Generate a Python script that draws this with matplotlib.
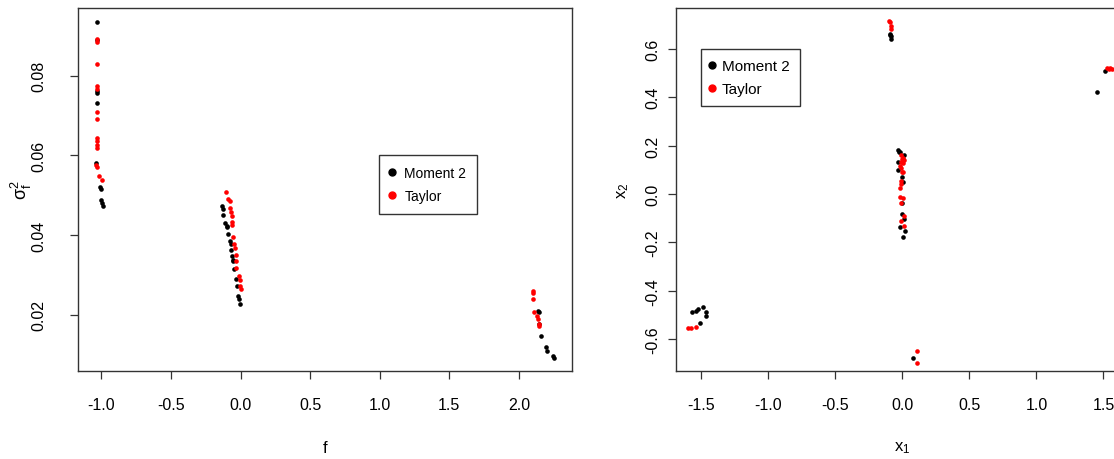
import matplotlib
matplotlib.use("Agg")
import matplotlib.pyplot as plt
from matplotlib import font_manager
from matplotlib.lines import Line2D

# ---- left panel: f vs sigma_f^2 ----
f_moment = [-1.034, -1.032, -1.034, -1.034, -1.034, -1.039, -1.010, -1.003, -1.003, -0.996, -0.991,
            -0.131, -0.126, -0.124, -0.112, -0.098, -0.100, -0.093, -0.076, -0.069, -0.071,
            -0.064, -0.055, -0.052, -0.045, -0.035, -0.028, -0.017, -0.011, -0.004,
            2.139, 2.147, 2.147, 2.159, 2.193, 2.200, 2.247, 2.252]
s_moment = [0.0936, 0.0890, 0.0762, 0.0756, 0.0731, 0.0581, 0.0522, 0.0516, 0.0488, 0.0480, 0.0474,
            0.0474, 0.0466, 0.0450, 0.0430, 0.0420, 0.0424, 0.0403, 0.0386, 0.0378, 0.0363,
            0.0348, 0.0338, 0.0336, 0.0315, 0.0290, 0.0272, 0.0248, 0.0240, 0.0227,
            0.0210, 0.0206, 0.0177, 0.0146, 0.0118, 0.0110, 0.0097, 0.0091]
f_taylor = [-1.034, -1.034, -1.034, -1.034, -1.031, -1.034, -1.031, -1.034, -1.031, -1.034, -1.031,
            -1.036, -1.032, -1.019, -0.998,
            -0.105, -0.088, -0.078, -0.076, -0.069, -0.062, -0.060, -0.060, -0.052, -0.047,
            -0.040, -0.035, -0.033, -0.033, -0.011, -0.004, -0.004, 0.003,
            2.104, 2.104, 2.104, 2.111, 2.131, 2.138, 2.143, 2.147]
s_taylor = [0.0893, 0.0886, 0.0829, 0.0775, 0.0768, 0.0708, 0.0691, 0.0645, 0.0637, 0.0627, 0.0619,
            0.0577, 0.0570, 0.0549, 0.0538,
            0.0507, 0.0491, 0.0486, 0.0467, 0.0458, 0.0449, 0.0432, 0.0425, 0.0394, 0.0378,
            0.0367, 0.0350, 0.0335, 0.0317, 0.0298, 0.0286, 0.0272, 0.0265,
            0.0260, 0.0255, 0.0240, 0.0208, 0.0198, 0.0189, 0.0177, 0.0173]

# ---- right panel: x1 vs x2 ----
x1_moment = [-1.566, -1.541, -1.526, -1.484, -1.464, -1.464, -1.509,
             -0.092, -0.084, -0.086, -0.089,
             -0.030, -0.022, -0.015, 0.015, -0.034, -0.034, -0.002, 0.003, -0.004,
             -0.002, 0.013, -0.017, 0.022, 0.007,
             0.078, 1.450, 1.512]
x2_moment = [-0.487, -0.485, -0.476, -0.467, -0.487, -0.504, -0.534,
             0.662, 0.652, 0.641, 0.658,
             0.183, 0.173, 0.175, 0.161, 0.131, 0.099, 0.069, 0.051, -0.037,
             -0.083, -0.103, -0.138, -0.154, -0.178,
             -0.680, 0.423, 0.510]
x1_taylor = [-1.596, -1.578, -1.538,
             -0.097, -0.092, -0.084, -0.086,
             -0.012, -0.004, -0.012, 0.007, -0.017, -0.004, 0.003, -0.007, -0.012, -0.017,
             -0.017, 0.007, -0.012, 0.013, -0.012, 0.013, 0.010, -0.008, 0.005,
             0.107, 0.107,
             1.524, 1.538, 1.549, 1.561]
x2_taylor = [-0.554, -0.554, -0.552,
             0.717, 0.710, 0.696, 0.683,
             0.161, 0.145, 0.131, 0.127, 0.117, 0.092, 0.090, 0.055, 0.041, 0.025,
             -0.014, -0.017, -0.037, -0.092, -0.110, -0.131, 0.140, 0.108, 0.150,
             -0.651, -0.700,
             0.520, 0.517, 0.519, 0.517]

names = {f.name for f in font_manager.fontManager.ttflist}
tick_font = "Liberation Sans Narrow" if "Liberation Sans Narrow" in names else "Liberation Sans"
plt.rcParams["font.family"] = ["Liberation Sans", "DejaVu Sans"]

W, H = 1114, 460
fig = plt.figure(figsize=(W / 100, H / 100), dpi=100)


def px_axes(x0, y0, x1, y1):
    return fig.add_axes([x0 / W, 1 - y1 / H, (x1 - x0) / W, (y1 - y0) / H])


def style(ax, ypad):
    for sp in ax.spines.values():
        sp.set_color("#333333")
        sp.set_linewidth(1.0)
    ax.tick_params(axis="both", direction="out", length=5.8, width=0.9, color="#333333",
                   labelsize=11.5)
    ax.tick_params(axis="x", pad=13)
    ax.tick_params(axis="y", pad=ypad)
    for lab in ax.get_xticklabels() + ax.get_yticklabels():
        lab.set_fontfamily(tick_font)
    for lab in ax.get_yticklabels():
        lab.set_rotation(90)
        lab.set_va("center")


def add_legend(ax, anchor, size, bpad, tpad, lspace):
    handles = [Line2D([], [], ls="none", marker="o", color="black", markersize=5),
               Line2D([], [], ls="none", marker="o", color="red", markersize=5)]
    leg = ax.legend(handles, ["Moment 2", "Taylor"], loc="upper left", bbox_to_anchor=anchor,
                    borderaxespad=0, fancybox=False, framealpha=1, edgecolor="#333333",
                    fontsize=size, handlelength=0.2, handletextpad=tpad, labelspacing=lspace,
                    borderpad=bpad)
    leg.get_frame().set_linewidth(1.0)


dot = 11

ax1 = px_axes(78.3, 8.7, 571.7, 372.3)
ax1.scatter(f_moment, s_moment, s=dot, color="black", linewidths=0, zorder=3)
ax1.scatter(f_taylor, s_taylor, s=dot, color="red", linewidths=0, zorder=3)
ax1.set_xlim(-1.166, 2.379)
ax1.set_ylim(0.0058, 0.0971)
ax1.set_xticks([-1.0, -0.5, 0.0, 0.5, 1.0, 1.5, 2.0])
ax1.set_yticks([0.02, 0.04, 0.06, 0.08])
ax1.set_xticklabels(["-1.0", "-0.5", "0.0", "0.5", "1.0", "1.5", "2.0"])
ax1.set_yticklabels(["0.02", "0.04", "0.06", "0.08"])
style(ax1, 17)
ax1.set_xlabel("f", fontsize=12)
ax1.set_ylabel(r"$\mathregular{\sigma_f^2}$", fontsize=13)
ax1.xaxis.set_label_coords(0.5, -0.21)
ax1.yaxis.set_label_coords(-0.116, 0.5)
ax1.xaxis.label.set_va("center")
ax1.yaxis.label.set_va("center")
add_legend(ax1, (0.610, 0.595), 10, 0.8, 0.8, 0.65)

ax2 = px_axes(676, 9.3, 1128.4, 372.3)
ax2.scatter(x1_moment, x2_moment, s=dot, color="black", linewidths=0, zorder=3)
ax2.scatter(x1_taylor, x2_taylor, s=dot, color="red", linewidths=0, zorder=3)
ax2.set_xlim(-1.688, 1.686)
ax2.set_ylim(-0.7336, 0.768)
ax2.set_xticks([-1.5, -1.0, -0.5, 0.0, 0.5, 1.0, 1.5])
ax2.set_yticks([-0.6, -0.4, -0.2, 0.0, 0.2, 0.4, 0.6])
ax2.set_xticklabels(["-1.5", "-1.0", "-0.5", "0.0", "0.5", "1.0", "1.5"])
ax2.set_yticklabels(["-0.6", "-0.4", "-0.2", "0.0", "0.2", "0.4", "0.6"])
style(ax2, 5.8)
ax2.set_xlabel(r"$\mathregular{x_1}$", fontsize=12)
ax2.set_ylabel(r"$\mathregular{x_2}$", fontsize=12)
ax2.xaxis.set_label_coords(0.5, -0.21)
ax2.yaxis.set_label_coords(-0.117, 0.5)
ax2.xaxis.label.set_va("center")
ax2.yaxis.label.set_va("center")
add_legend(ax2, (0.0546, 0.8879), 11, 0.65, 0.55, 0.6)

fig.savefig("out.png", dpi=100)
